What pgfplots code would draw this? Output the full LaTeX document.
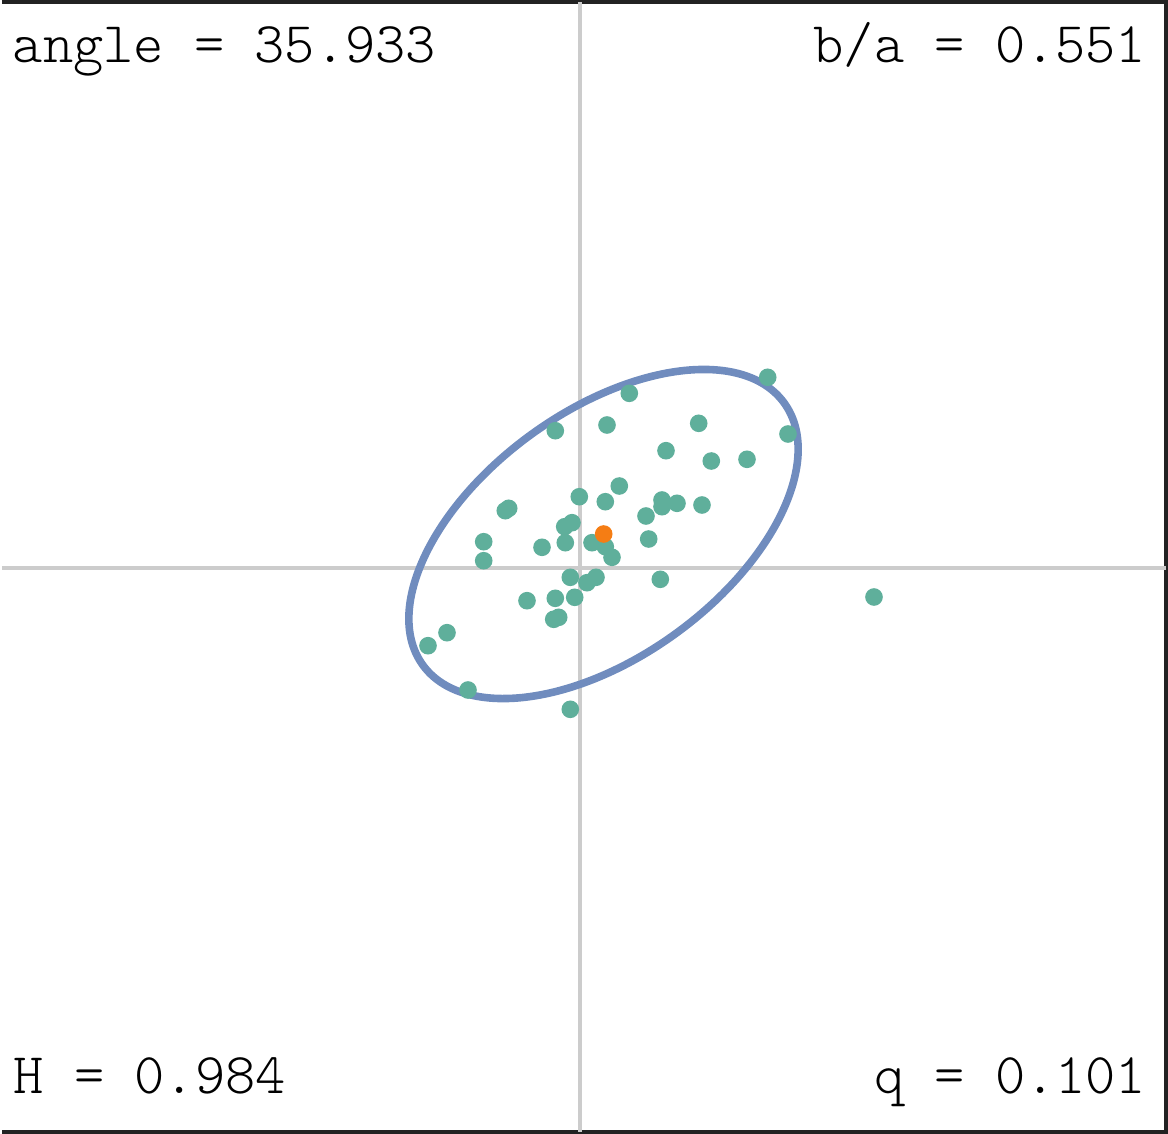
\documentclass[border=0pt]{standalone}
\usepackage{pgfplots}
\pgfplotsset{compat=1.18}
\definecolor{ptcol}{HTML}{5FAF9B}
\definecolor{elcol}{HTML}{708CBE}
\definecolor{orcol}{HTML}{F57D14}
\definecolor{gridgray}{HTML}{CCCCCC}
\definecolor{framecol}{HTML}{222222}
\newcommand{\annfont}{\fontsize{14.4}{16}\fontfamily{lmtt}\fontseries{l}\selectfont}
\begin{document}
\begin{tikzpicture}
\begin{axis}[
  scale only axis,
  width=292pt, height=283.75pt,
  xmin=0, xmax=1168, ymin=0, ymax=1135,
  hide axis,
  clip=false,
]
% frame (left edge is cut off in the reference)
\draw[framecol, line width=1pt] (axis cs:0,1133) -- (axis cs:1164,1133) -- (axis cs:1164,3.5) -- (axis cs:0,3.5);
% cross lines
\draw[gridgray, line width=0.8pt] (axis cs:578,3.5) -- (axis cs:578,1133);
\draw[gridgray, line width=0.8pt] (axis cs:0,567) -- (axis cs:1164,567);
% fitted ellipse
\draw[elcol, line width=1.9pt, rotate around={35.933:(axis cs:601.5,601)}] (axis cs:601.5,601) ellipse [x radius=55.8pt, y radius=30.75pt];
\addplot[only marks, mark=*, mark size=2pt, color=ptcol, mark options={draw=ptcol, fill=ptcol}] coordinates {
(765.7,757.7) (627.3,741.7) (696.7,711.7) (605,710) (553.3,704.3)
(786,701) (664,684.3) (709.3,674) (745,675.7) (617.3,649)
(577.3,638.3) (603.3,633.3) (660,635) (660,628.3) (675,631.7)
(700,630) (506.7,626.7) (503.3,624.3) (644,619) (570,612.3)
(562.7,608.3) (481.7,593.3) (563.3,592.3) (540,587.7) (590,592.3)
(603.3,588.3) (646.7,596) (610,577.7) (481.7,574.3) (568.3,557.7)
(594,557.7) (585,552.3) (658.3,555.7) (525,534.3) (553.3,536.7)
(572.7,537.7) (556.7,517.7) (551.7,515.7) (445,502.3) (426,489.3)
(466,445) (568.3,425.7) (872,538)
};
\addplot[only marks, mark=*, mark size=2pt, color=orcol, mark options={draw=orcol, fill=orcol}] coordinates {(601.7,601)};
% annotations
\node[anchor=base west, inner sep=0pt, font=\annfont] at (axis cs:10,1073) {angle = 35.933};
\node[anchor=base east, inner sep=0pt, font=\annfont] at (axis cs:1145,1073) {b/a = 0.551};
\node[anchor=base west, inner sep=0pt, font=\annfont] at (axis cs:11,42) {H = 0.984};
\node[anchor=base east, inner sep=0pt, font=\annfont] at (axis cs:1145,42) {q = 0.101};
\end{axis}
\end{tikzpicture}
\end{document}
